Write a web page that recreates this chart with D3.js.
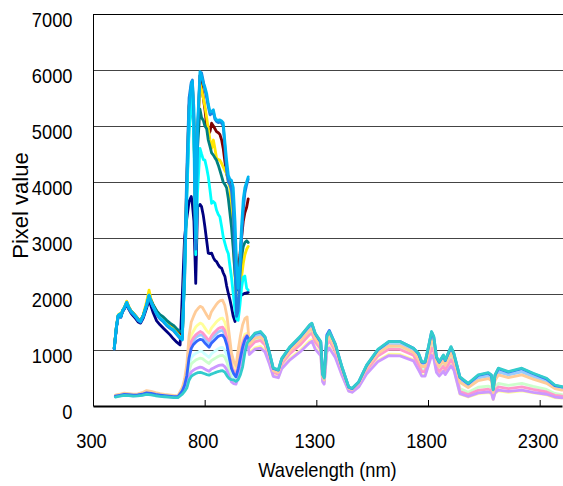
<!DOCTYPE html>
<html>
<head>
<meta charset="utf-8">
<script src="https://cdn.jsdelivr.net/npm/d3@7"></script>
<style>
  body { margin: 0; background: #fff; }
  svg { display: block; }
</style>
</head>
<body>
<script>
// Axis ticks
const xTicks = [300, 800, 1300, 1800, 2300];
const yTicks = [0, 1000, 2000, 3000, 4000, 5000, 6000, 7000];

// Short-range spectra (VNIR only), sampled at these wavelengths (nm)
const nmA = [395,405,413,420,425,432,440,451,460,470,480,491,502,513,525,540,551,560,570,585,600,615,630,645,660,675,690,
  700,710,720,730,740,745,752,760,768,779,786,794,801,809,816,824,831,839,846,853,861,868,876,883,891,898,906,913,920,928,936,943,950,958,965,973,980,988,995];

const navyA = [1030,1400,1600,1620,1590,1680,1730,1820,1730,1660,1610,1560,1500,1480,1570,1750,1900,1780,1660,1520,1450,1390,1330,1270,1200,1140,1090,
  2000,3000,3350,3650,3740,3600,3300,2190,3550,3600,3560,3400,3200,2950,2730,2720,2730,2650,2600,2580,2520,2480,2460,2380,2310,2150,2010,1900,1770,1600,1510,1700,1890,1950,1980,2000,2010,2020,2030];
const darkRedA = [1030,1420,1620,1640,1600,1700,1750,1860,1770,1700,1660,1610,1550,1520,1620,1820,2010,1890,1800,1690,1610,1560,1490,1440,1400,1340,1270,
  1230,2500,4000,5350,5700,5750,5000,2900,4800,5900,5700,5500,5300,5000,4850,4900,5050,5000,4950,4900,4880,4850,4750,4600,4350,4150,4050,3980,3900,3500,2900,2500,2450,2700,3000,3300,3450,3550,3700];
const yellowA = [1040,1430,1630,1650,1610,1710,1760,1870,1780,1700,1660,1610,1550,1520,1630,1860,2070,1900,1790,1670,1590,1540,1470,1420,1380,1310,1240,
  1220,2450,3950,5300,5700,5750,5050,2900,4800,5750,5650,5500,5350,5150,4950,4750,4600,4750,4600,4430,4400,4390,4330,4270,4200,4150,4000,3900,3500,2900,2300,1800,1700,2000,2300,2550,2700,2800,2850];
const tealA = [1030,1420,1620,1640,1600,1700,1750,1840,1760,1690,1650,1600,1545,1520,1620,1800,1960,1880,1800,1700,1630,1590,1530,1480,1440,1380,1330,
  1350,2200,3800,5000,5400,5450,4800,3200,4600,5300,5150,5100,5000,4950,4750,4630,4520,4480,4430,4390,4300,4210,4100,4000,3950,3900,3700,3450,3200,2800,2350,2100,2070,2400,2650,2850,2920,2950,2920];
const cyanA = [1030,1420,1620,1640,1600,1700,1750,1850,1760,1690,1650,1600,1540,1510,1610,1800,1980,1860,1770,1650,1570,1520,1450,1400,1360,1290,1220,
  1250,2300,3700,4900,5500,5600,4600,2700,3800,4600,4500,4400,4390,4250,4100,3850,3620,3650,3620,3500,3420,3380,3200,3020,2900,2800,2720,2500,2300,2000,1700,1550,1530,1800,2100,2300,2320,2100,2070];
const blueA = [1015,1405,1605,1625,1585,1685,1735,1835,1745,1675,1635,1585,1525,1495,1595,1785,1965,1845,1755,1635,1555,1505,1435,1385,1345,1275,1205,
  1200,2600,4200,5500,5780,5820,5100,2800,4900,5900,5950,5800,5650,5500,5350,5200,5220,5250,5120,5080,5060,5080,5050,5000,4600,4200,4000,3950,3850,3500,2500,1600,1700,2300,3000,3500,3800,3950,4050];
const skyA = [1030,1420,1620,1640,1600,1700,1750,1850,1760,1690,1650,1600,1540,1510,1610,1800,1980,1860,1770,1650,1570,1520,1450,1400,1360,1290,1220,
  1180,2400,3900,5300,5750,5800,5300,3000,5000,5970,5900,5760,5700,5580,5400,5250,5260,5290,5150,5110,5100,5110,5090,5060,4700,4400,4120,4050,4030,3900,3300,2500,2100,2600,3200,3700,3900,4000,4090];

// Full-range spectra (VNIR + SWIR), sampled at these wavelengths (nm)
const nmB = [400,420,440,460,480,500,520,540,560,580,600,620,640,660,680,700,710,720,730,740,750,760,770,780,790,800,810,820,830,840,850,860,870,880,890,900,910,920,930,940,950,960,970,980,990,
  1000,1025,1050,1070,1090,1107,1130,1145,1182,1227,1270,1280,1295,1320,1328,1335,1347,1358,1385,1415,1445,1460,1490,1525,1575,1625,1675,1735,1758,1772,1787,1802,1816,1826,1838,1850,1869,1877,1890,1903,1916,1943,1980,2025,2070,2084,2092,2100,2115,2160,2220,2271,2331,2368,2400];

const ltTurqB = [174,189,204,198,189,193,206,230,220,202,191,181,173,166,162,250,330,460,720,860,910,940,960,980,970,930,900,870,930,960,990,1020,1040,1045,1000,890,720,560,490,460,600,800,1000,1150,1230,
  1160,1275,1300,1215,940,665,630,835,1040,1215,1420,1450,1275,1125,550,490,1215,1305,1090,685,335,310,425,715,990,1130,1125,1010,900,760,760,1020,1275,1190,845,760,875,785,900,1020,900,495,385,525,565,525,275,525,640,585,640,555,470,355,330];
const ltGreenB = [170,185,200,195,185,190,201,224,214,197,186,176,169,163,159,240,310,410,630,750,790,820,840,855,845,815,785,760,810,835,860,885,900,905,870,780,630,500,440,420,540,740,950,1120,1210,
  1075,1185,1210,1130,875,620,585,775,965,1130,1320,1345,1185,1045,510,455,1130,1210,1010,635,310,285,395,665,920,1050,1045,935,770,650,650,870,1090,1015,720,650,745,670,770,870,770,310,245,335,355,335,175,335,405,370,405,350,295,225,205];
const ltYellowB = [188,203,220,214,204,209,226,258,246,226,212,200,190,181,176,300,430,640,1050,1260,1340,1410,1450,1480,1460,1400,1340,1300,1390,1440,1490,1530,1560,1570,1500,1330,1070,800,680,620,800,1000,1180,1280,1300,
  945,1040,1065,990,770,545,515,680,850,990,1160,1185,1040,920,450,400,990,1065,890,560,270,250,350,585,810,925,920,825,660,555,555,740,930,870,615,555,635,575,660,740,660,210,160,220,240,220,115,220,270,245,270,235,200,150,140];
const paleBlueB = [180,195,210,204,195,200,214,240,230,211,199,189,180,172,168,280,385,575,920,1100,1170,1220,1250,1270,1260,1210,1160,1120,1200,1240,1280,1320,1340,1350,1290,1150,920,700,600,540,700,900,1080,1200,1260,
  1120,1235,1265,1180,910,645,615,810,1005,1180,1380,1405,1235,1090,530,475,1180,1265,1055,665,325,300,415,695,960,1095,1095,980,875,735,735,985,1235,1155,820,735,845,765,875,985,875,470,365,500,535,500,260,500,610,555,610,525,445,340,310];
const roseB = [184,199,215,209,200,205,220,248,237,218,205,194,185,176,171,290,400,600,960,1150,1220,1270,1300,1330,1310,1260,1210,1170,1250,1300,1340,1380,1400,1410,1350,1200,960,730,620,560,740,940,1120,1230,1270,
  1040,1145,1170,1090,845,600,570,750,935,1090,1275,1300,1145,1010,495,440,1090,1170,975,615,300,275,385,640,890,1015,1010,905,735,615,615,825,1035,965,685,615,710,640,735,825,735,260,205,280,300,280,145,280,340,310,340,295,250,190,175];
const lavenderB = [166,181,196,191,181,186,196,217,207,191,181,171,164,158,154,225,280,350,520,610,640,665,680,695,685,660,640,620,660,680,700,720,730,735,705,640,530,430,400,390,500,680,880,1080,1180,
  920,1015,1035,965,750,530,505,665,825,965,1130,1155,1015,895,435,390,965,1035,865,545,265,245,340,570,790,900,895,805,640,535,535,720,905,845,600,535,620,560,640,720,640,220,170,235,250,235,120,235,285,260,285,245,210,160,145];
const tanB = [195,210,230,222,212,218,238,275,262,238,222,208,198,188,182,330,480,740,1250,1500,1600,1690,1740,1780,1760,1690,1620,1560,1680,1740,1800,1850,1880,1890,1800,1600,1280,950,800,710,1000,1250,1450,1560,1590,
  1100,1210,1235,1155,895,630,600,790,985,1155,1350,1375,1210,1070,520,465,1155,1235,1030,650,315,295,405,680,940,1075,1070,960,835,705,705,945,1185,1105,785,705,810,730,835,945,835,425,330,455,490,455,240,455,555,505,555,480,405,310,285];
const blueB = [176,192,208,201,192,197,210,236,226,207,196,186,177,169,165,270,370,540,860,1030,1100,1140,1170,1190,1180,1130,1090,1050,1120,1160,1200,1240,1260,1265,1210,1080,870,670,575,520,660,860,1050,1180,1250,
  1170,1290,1320,1230,950,670,640,840,1050,1230,1440,1470,1290,1140,570,520,1270,1350,1100,690,335,310,430,720,1000,1150,1150,1030,930,780,780,1050,1320,1230,870,780,900,810,930,1050,930,510,395,545,585,545,300,545,665,605,665,575,485,365,340];
const aquaB = [160,176,191,186,176,180,189,207,199,183,173,165,158,152,150,210,260,320,460,530,560,580,595,600,590,575,560,550,570,585,600,615,625,630,605,540,490,470,465,440,470,560,700,950,1120,
  1180,1300,1330,1240,960,680,645,850,1060,1240,1450,1480,1300,1150,560,500,1240,1330,1110,700,340,315,435,730,1010,1155,1150,1030,940,790,790,1060,1330,1240,880,790,910,820,940,1060,940,520,405,555,595,555,290,555,675,615,675,585,495,375,345];

// Draw order (later on top) and colours
const series = [
  { nm: nmA, v: navyA, color: "#000080" },
  { nm: nmA, v: darkRedA, color: "#800000" },
  { nm: nmA, v: yellowA, color: "#FFE600" },
  { nm: nmA, v: tealA, color: "#008080" },
  { nm: nmA, v: cyanA, color: "#00FFFF" },
  { nm: nmA, v: blueA, color: "#1E7FE0" },
  { nm: nmA, v: skyA, color: "#00B4F0" },
  { nm: nmB, v: ltTurqB, color: "#CCFFFF" },
  { nm: nmB, v: ltGreenB, color: "#CCFFCC" },
  { nm: nmB, v: ltYellowB, color: "#FFFF99" },
  { nm: nmB, v: paleBlueB, color: "#99CCFF" },
  { nm: nmB, v: roseB, color: "#FF99CC" },
  { nm: nmB, v: lavenderB, color: "#CC99FF" },
  { nm: nmB, v: tanB, color: "#FFCC99" },
  { nm: nmB, v: blueB, color: "#3366FF" },
  { nm: nmB, v: aquaB, color: "#33CCCC" }
];

const width = 563, height = 486;
const font = "'Liberation Sans', Arial, sans-serif";

const x = d3.scaleLinear().domain([300, 2400]).range([93, 562]);
const y = d3.scaleLinear().domain([0, 7000]).range([406, 14]);

const svg = d3.select("body").append("svg")
  .attr("width", width)
  .attr("height", height)
  .attr("font-family", font);

// squeeze text horizontally, the labels are narrow in the original
function squeeze(sel, k) {
  sel.each(function () {
    const w = this.getComputedTextLength();
    d3.select(this).attr("textLength", w * k).attr("lengthAdjust", "spacingAndGlyphs");
  });
}

// gridlines
svg.append("g")
  .selectAll("line")
  .data(yTicks.filter(d => d > 0))
  .join("line")
  .attr("x1", 93)
  .attr("x2", width)
  .attr("y1", d => Math.round(y(d)) + 0.5)
  .attr("y2", d => Math.round(y(d)) + 0.5)
  .attr("stroke", d => d === 7000 ? "#000" : "#444")
  .attr("stroke-width", 1);

// spectra
const line = d3.line()
  .x(d => x(d[0]))
  .y(d => y(d[1]));

svg.append("g")
  .attr("fill", "none")
  .attr("stroke-width", 2.8)
  .attr("stroke-linejoin", "round")
  .attr("stroke-linecap", "round")
  .selectAll("path")
  .data(series)
  .join("path")
  .attr("stroke", d => d.color)
  .attr("d", d => line(d.nm.map((n, i) => [n, d.v[i]])));

// x axis
const gx = svg.append("g")
  .attr("transform", `translate(0,${y(0)})`)
  .call(d3.axisBottom(x).tickValues(xTicks).tickFormat(d3.format("d"))
    .tickSizeInner(-6).tickSizeOuter(0).tickPadding(27));
gx.select(".domain").attr("stroke", "#000").attr("stroke-width", 2);
gx.selectAll(".tick line").attr("stroke", "#000");
gx.selectAll(".tick text")
  .attr("font-family", font)
  .attr("font-size", 21)
  .attr("fill", "#000")
  .attr("dx", -2)
  .call(squeeze, 0.87);

// y axis
const gy = svg.append("g")
  .attr("transform", "translate(93,0)")
  .call(d3.axisLeft(y).tickValues(yTicks).tickFormat(d3.format("d"))
    .tickSize(0).tickPadding(20.5));
gy.select(".domain").attr("stroke", "#000").attr("stroke-width", 1);
gy.selectAll(".tick text")
  .attr("font-family", font)
  .attr("font-size", 21)
  .attr("fill", "#000")
  .attr("dy", "12px")
  .call(squeeze, 0.87);

// titles
svg.append("text")
  .attr("x", 327.5)
  .attr("y", 477)
  .attr("text-anchor", "middle")
  .attr("font-size", 21)
  .attr("fill", "#000")
  .text("Wavelength (nm)")
  .call(squeeze, 0.87);

svg.append("text")
  .attr("transform", "translate(28,205.5) rotate(-90)")
  .attr("text-anchor", "middle")
  .attr("font-size", 22)
  .attr("fill", "#000")
  .text("Pixel value");
</script>
</body>
</html>
